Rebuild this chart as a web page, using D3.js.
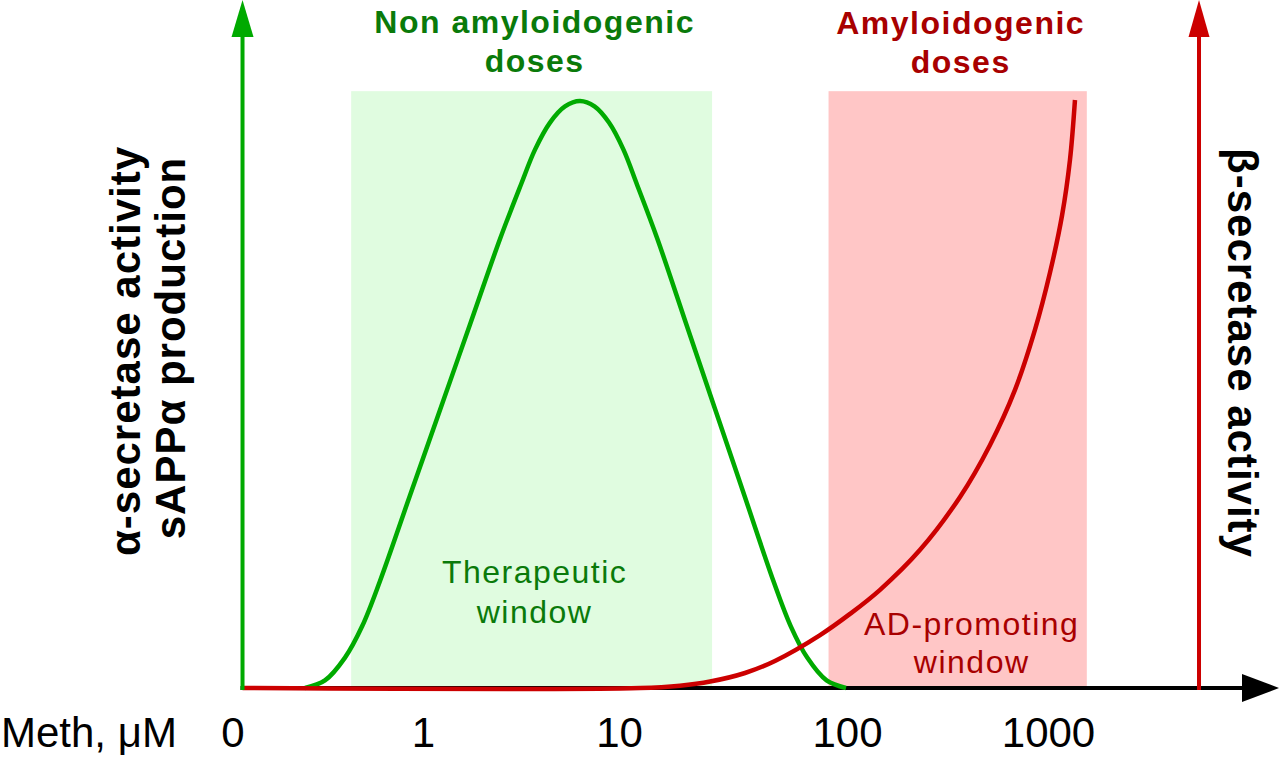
<!DOCTYPE html>
<html>
<head>
<meta charset="utf-8">
<script src="https://cdn.jsdelivr.net/npm/d3@7"></script>
<style>
  body { margin: 0; background: #fff; }
  svg { display: block; font-family: "Liberation Sans", Arial, sans-serif; }
</style>
</head>
<body>
<div id="chart"></div>
<script>
// dose axis (µM, log) and tick labels
const tickDoses = [1, 10, 100, 1000];
const tickLabels = ['1', '10', '100', '1000'];
const originDose = 0.12;
const endDose = 14100;
const betaAxisDose = 5640;

// alpha-secretase / sAPPa response
const greenDose = [0.25, 0.316, 0.4, 0.489, 0.6035, 0.858, 1.221, 1.737, 2.471, 3.162, 3.728, 4.446,
  5.303, 6.324, 7.499, 8.89, 10.46, 11.99, 14.74, 19.75, 26.47, 35.48, 47.56, 56.69, 66.91, 81.37, 99.0];
const greenLevel = [0, 0.0129, 0.0517, 0.1049, 0.182, 0.3274, 0.4728, 0.6182, 0.7636, 0.8563, 0.9156,
  0.9616, 0.9891, 0.9983, 0.9891, 0.9616, 0.9156, 0.8563, 0.7636, 0.6182, 0.4728, 0.3274, 0.182,
  0.1049, 0.0517, 0.0129, 0];

// beta-secretase response
const redDose = [0.12, 12.4, 18.5, 25.1, 35.7, 48.3, 76.2, 103.5, 146, 231, 365, 514, 685, 861,
  1024, 1175, 1286, 1362];
const redLevel = [0, 0, 0.004, 0.011, 0.0255, 0.046, 0.090, 0.126, 0.167, 0.235, 0.325, 0.413, 0.507,
  0.609, 0.707, 0.804, 0.898, 1.0];

// dose windows
const therapeuticWindow = [0.43, 25.6];
const adWindow = [83, 1560];
const windowTop = 1.015;
const axisTop = 1.17;

const svg = d3.select('#chart').append('svg')
  .attr('width', 1280)
  .attr('height', 758);

const x = d3.scaleLog()
  .domain(tickDoses)
  .range([423, 619, 847, 1048]);

const y = d3.scaleLinear()
  .domain([0, 1])
  .range([688, 100]);

const GREEN = '#00aa00', RED = '#cc0000';
const DARKGREEN = '#0a7a0a', DARKRED = '#a80000';

// shaded windows
svg.append('rect')
  .attr('x', x(therapeuticWindow[0]))
  .attr('y', y(windowTop))
  .attr('width', x(therapeuticWindow[1]) - x(therapeuticWindow[0]))
  .attr('height', y(0) - y(windowTop))
  .attr('fill', '#e0fce0');

svg.append('rect')
  .attr('x', x(adWindow[0]))
  .attr('y', y(windowTop))
  .attr('width', x(adWindow[1]) - x(adWindow[0]))
  .attr('height', y(0) - y(windowTop))
  .attr('fill', '#ffc6c6');

const arrow = (x1, y1, x2, y2, color, len, half) => {
  const dx = x2 - x1, dy = y2 - y1;
  const d = Math.sqrt(dx * dx + dy * dy);
  const ux = dx / d, uy = dy / d;
  const bx = x2 - ux * len, by = y2 - uy * len;
  svg.append('line')
    .attr('x1', x1).attr('y1', y1)
    .attr('x2', bx).attr('y2', by)
    .attr('stroke', color)
    .attr('stroke-width', 4);
  svg.append('path')
    .attr('d', `M${x2},${y2}L${bx - uy * half},${by + ux * half}L${bx + uy * half},${by - ux * half}Z`)
    .attr('fill', color);
};

// x axis
arrow(x(originDose) - 2, y(0), x(endDose), y(0), '#000', 37, 14);

const xAxis = svg.append('g')
  .attr('transform', `translate(0,${y(0)})`)
  .call(d3.axisBottom(x)
    .tickValues(tickDoses)
    .tickFormat((d, i) => tickLabels[i])
    .tickSize(0)
    .tickPadding(29));
xAxis.select('.domain').remove();
xAxis.selectAll('text')
  .attr('font-family', '"Liberation Sans", Arial, sans-serif')
  .attr('font-size', 42)
  .attr('fill', '#000');

svg.append('text')
  .attr('x', x(originDose) + 2)
  .attr('y', 747)
  .attr('text-anchor', 'end')
  .attr('font-size', 42)
  .text('0');

svg.append('text')
  .attr('x', 1)
  .attr('y', 747)
  .attr('font-size', 42)
  .text('Meth, \u03bcM');

// curves
const line = d3.line()
  .x(d => x(d[0]))
  .y(d => y(d[1]))
  .curve(d3.curveCatmullRom.alpha(0.5));

svg.append('path')
  .datum(d3.zip(greenDose, greenLevel))
  .attr('d', line)
  .attr('fill', 'none')
  .attr('stroke', GREEN)
  .attr('stroke-width', 4.5);

svg.append('path')
  .datum(d3.zip(redDose, redLevel))
  .attr('d', line)
  .attr('fill', 'none')
  .attr('stroke', RED)
  .attr('stroke-width', 4.5);

// vertical axes
arrow(x(originDose), y(0) + 2, x(originDose), y(axisTop), GREEN, 37, 11);
arrow(x(betaAxisDose), y(0) + 2, x(betaAxisDose), y(axisTop), RED, 37, 10.5);

// titles over windows
const gMid = (x(therapeuticWindow[0]) + x(therapeuticWindow[1])) / 2 + 3;
const rMid = (x(adWindow[0]) + x(adWindow[1])) / 2 + 3;

const label = (tx, ty, txt, color, weight) => svg.append('text')
  .attr('x', tx)
  .attr('y', ty)
  .attr('text-anchor', 'middle')
  .attr('font-size', 32)
  .attr('font-weight', weight)
  .attr('letter-spacing', 1.5)
  .attr('fill', color)
  .text(txt);

label(gMid, 33, 'Non amyloidogenic', DARKGREEN, 'bold');
label(gMid, 72, 'doses', DARKGREEN, 'bold');
label(rMid, 34, 'Amyloidogenic', DARKRED, 'bold');
label(rMid, 73, 'doses', DARKRED, 'bold');

label(gMid, 583, 'Therapeutic', DARKGREEN, 'normal');
label(gMid, 623, 'window', DARKGREEN, 'normal');
label(rMid + 11, 635, 'AD-promoting', DARKRED, 'normal');
label(rMid + 11, 673, 'window', DARKRED, 'normal');

// side axis titles
const sideTitle = (tx, ty, rot, txt) => svg.append('text')
  .attr('transform', `translate(${tx},${ty}) rotate(${rot})`)
  .attr('text-anchor', 'middle')
  .attr('font-size', 42)
  .attr('font-weight', 'bold')
  .attr('letter-spacing', 1)
  .attr('fill', '#000')
  .text(txt);

sideTitle(140, 351, -90, '\u03b1-secretase activity');
sideTitle(185, 348, -90, 'sAPP\u03b1 production');
sideTitle(1228, 353, 90, '\u03b2-secretase activity');
</script>
</body>
</html>
